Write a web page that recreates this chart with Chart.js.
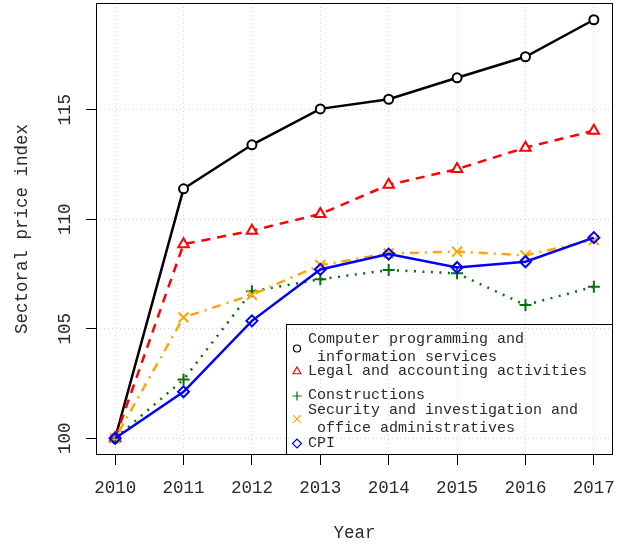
<!DOCTYPE html>
<html>
<head>
<meta charset="utf-8">
<script src="https://cdn.jsdelivr.net/npm/chart.js@4.4.1/dist/chart.umd.min.js"></script>
<style>
  html, body { margin: 0; padding: 0; background: #fff; }
</style>
</head>
<body>
<canvas id="chart" width="623" height="546"></canvas>
<script>
const YEARS = [2010, 2011, 2012, 2013, 2014, 2015, 2016, 2017]
const COMPUTER = [100, 111.39, 113.40, 115.04, 115.48, 116.46, 117.42, 119.11]
const LEGAL = [100, 108.86, 109.48, 110.24, 111.57, 112.29, 113.27, 114.04]
const CONSTRUCTIONS = [100, 102.68, 106.71, 107.26, 107.68, 107.53, 106.08, 106.92]
const SECURITY = [100, 105.52, 106.55, 107.91, 108.44, 108.52, 108.35, 109.05]
const CPI = [100, 102.12, 105.36, 107.71, 108.41, 107.80, 108.06, 109.16]
const Y_TICKS = [100, 105, 110, 115]

const NAMES = [
  ["Computer programming and", " information services"],
  ["Legal and accounting activities"],
  ["Constructions"],
  ["Security and investigation and", " office administratives"],
  ["CPI"],
]

const FONT = "'Liberation Mono', 'DejaVu Sans Mono', monospace"
const TEXT = "#2a2a2a"

function points(values) {
  return values.map(function (v, i) {
    return { x: YEARS[i], y: v }
  })
}

function series(values, color, style, radius, dash, fill, order) {
  return {
    data: points(values),
    borderColor: color,
    backgroundColor: color,
    borderWidth: 2.5,
    borderDash: dash,
    pointStyle: style,
    pointRadius: radius,
    pointBorderWidth: 2,
    pointBorderColor: color,
    pointBackgroundColor: fill,
    tension: 0,
    order: order,
  }
}

const datasets = [
  series(COMPUTER, "#000000", "circle", 4.5, [], "#ffffff", 4),
  series(LEGAL, "#ff0000", "triangle", 6, [9, 7], "#ffffff", 3),
  series(CONSTRUCTIONS, "#0b6e0b", "cross", 6, [2, 6.5], "rgba(0,0,0,0)", 2),
  series(SECURITY, "#ffa500", "crossRot", 7, [2, 6, 9, 6], "rgba(0,0,0,0)", 1),
  series(CPI, "#0000ff", "rectRot", 5.5, [], "rgba(0,0,0,0)", 0),
]

// R style 4% extension of the data range
const allY = COMPUTER.concat(LEGAL, CONSTRUCTIONS, SECURITY, CPI)
const yLo = Math.min.apply(null, allY)
const yHi = Math.max.apply(null, allY)
const yPad = (yHi - yLo) * 0.04
const xPad = (YEARS[YEARS.length - 1] - YEARS[0]) * 0.04

const LEGEND = [
  { symbol: "circle", radius: 3.5, lines: [15.5, 33], mark: 24.5 },
  { symbol: "triangle", radius: 4.5, lines: [47.5], mark: 47.5 },
  { symbol: "cross", radius: 4.5, lines: [71.5], mark: 72 },
  { symbol: "crossRot", radius: 5.5, lines: [86, 104], mark: 95 },
  { symbol: "rectRot", radius: 4.5, lines: [119.5], mark: 119.5 },
]

const boxAndLegend = {
  id: "boxAndLegend",
  afterDraw: function (chart) {
    const ctx = chart.ctx
    const a = chart.chartArea
    ctx.save()
    ctx.strokeStyle = "#000"
    ctx.lineWidth = 1
    ctx.setLineDash([])
    ctx.strokeRect(Math.round(a.left) + 0.5, Math.round(a.top) + 0.5,
      Math.round(a.right - a.left) - 1, Math.round(a.bottom - a.top) - 1)

    const w = 327
    const h = 131
    const left = Math.round(a.right) - w
    const top = Math.round(a.bottom) - h
    ctx.strokeRect(left + 0.5, top + 0.5, w - 1, h - 1)

    ctx.font = "15px " + FONT
    ctx.fillStyle = TEXT
    ctx.textBaseline = "middle"
    ctx.textAlign = "left"
    LEGEND.forEach(function (item, i) {
      const ds = datasets[i]
      item.lines.forEach(function (ly, j) {
        ctx.fillText(NAMES[i][j], left + 22, top + ly)
      })
      ctx.strokeStyle = ds.borderColor
      ctx.fillStyle = "rgba(0,0,0,0)"
      ctx.lineWidth = 1.2
      Chart.helpers.drawPoint(ctx, {
        pointStyle: item.symbol,
        radius: item.radius,
        borderWidth: 1.2,
        rotation: 0,
      }, left + 11, top + item.mark)
      ctx.fillStyle = TEXT
    })
    ctx.restore()
  },
}

function noPadding(scale) {
  scale.paddingLeft = 0
  scale.paddingRight = 0
  scale.paddingTop = 0
  scale.paddingBottom = 0
}

new Chart(document.getElementById("chart"), {
  type: "line",
  data: { datasets: datasets },
  plugins: [boxAndLegend],
  options: {
    responsive: false,
    animation: false,
    events: [],
    layout: { autoPadding: false, padding: { left: 0, right: 10, top: 3, bottom: 0 } },
    plugins: {
      legend: { display: false },
      tooltip: { enabled: false },
    },
    scales: {
      x: {
        type: "linear",
        min: YEARS[0] - xPad,
        max: YEARS[YEARS.length - 1] + xPad,
        afterBuildTicks: function (scale) {
          scale.ticks = YEARS.map(function (v) { return { value: v } })
        },
        afterFit: function (scale) {
          scale.height = 91
          noPadding(scale)
        },
        grid: {
          color: "#d3d3d3",
          lineWidth: 1,
          tickLength: 10,
          tickColor: "#000",
          tickWidth: 1,
        },
        border: { display: false, dash: [1, 3] },
        ticks: {
          autoSkip: false,
          maxRotation: 0,
          padding: 13,
          color: TEXT,
          font: { family: FONT, size: 17.5 },
          callback: function (v) { return String(v) },
        },
        title: {
          display: true,
          text: "Year",
          color: TEXT,
          font: { family: FONT, size: 17.5 },
          padding: { top: 0, bottom: 2 },
        },
      },
      y: {
        min: yLo - yPad,
        max: yHi + yPad,
        afterBuildTicks: function (scale) {
          scale.ticks = Y_TICKS.map(function (v) { return { value: v } })
        },
        afterFit: function (scale) {
          scale.width = 96
          noPadding(scale)
        },
        grid: {
          color: "#d3d3d3",
          lineWidth: 1,
          tickLength: 10,
          tickColor: "#000",
          tickWidth: 1,
        },
        border: { display: false, dash: [1, 3] },
        ticks: {
          minRotation: 90,
          maxRotation: 90,
          crossAlign: "center",
          padding: 5,
          color: TEXT,
          font: { family: FONT, size: 17.5 },
          callback: function (v) { return String(v) },
        },
        title: {
          display: true,
          text: "Sectoral price index",
          color: TEXT,
          font: { family: FONT, size: 17.5 },
          padding: { top: 12, bottom: 0 },
        },
      },
    },
  },
})
</script>
</body>
</html>
